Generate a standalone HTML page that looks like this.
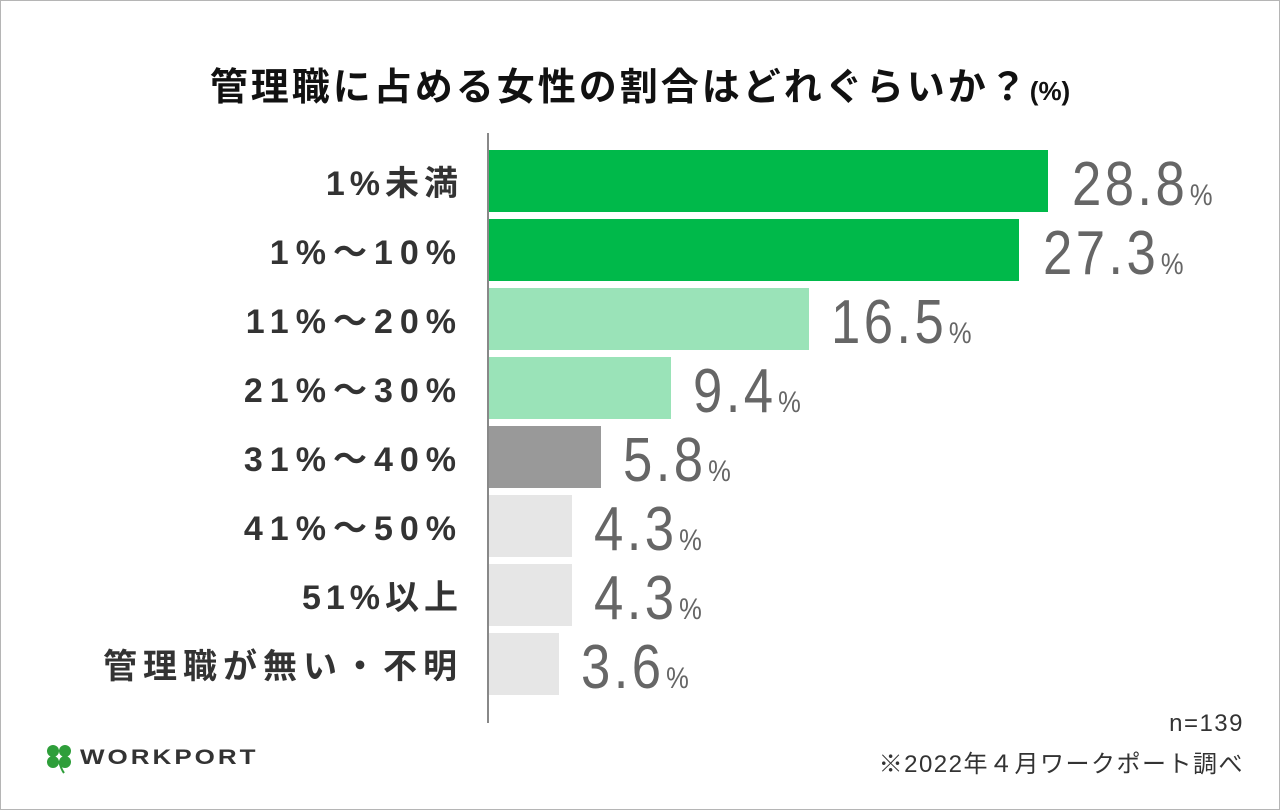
<!DOCTYPE html>
<html><head><meta charset="utf-8"><style>
body{margin:0;width:1280px;height:810px;background:#fff;font-family:"Liberation Sans","Noto Sans CJK JP",sans-serif;position:relative;overflow:hidden}
.frame{position:absolute;left:0;top:0;width:1278px;height:808px;border:1px solid #b5b5b5}
.title{position:absolute;left:0;width:1280px;top:56px;text-align:center;font-size:38px;font-weight:bold;color:#111;letter-spacing:3px}
.title small{font-size:26px;letter-spacing:0}
.axis{position:absolute;left:487px;top:133px;width:2px;height:590px;background:#888}
.bar{position:absolute;left:489px;height:62px}
.lab{position:absolute;right:817px;font-size:34px;font-weight:bold;color:#333;height:62px;line-height:68px;white-space:nowrap;letter-spacing:5px}
.lab.l{letter-spacing:7px}
.val{position:absolute;height:62px;line-height:70px;font-size:62px;color:#666;white-space:nowrap;letter-spacing:4px;transform:scaleX(0.85);transform-origin:left center}
.val span{font-size:30px;margin-left:2px;letter-spacing:0}
.foot{position:absolute;right:36px;font-size:24px;color:#333;letter-spacing:1.5px}
</style></head><body>
<div class="frame"></div>
<div class="title">管理職に占める女性の割合はどれぐらいか？<small>(%)</small></div>
<div class="axis"></div>

<div class="lab" style="top:150px">1%未満</div>
<div class="bar" style="top:150px;width:559px;background:#00b94a"></div>
<div class="val" style="top:150px;left:1072px">28.8<span>%</span></div>

<div class="lab l" style="top:219px">1%～10%</div>
<div class="bar" style="top:219px;width:530px;background:#00b94a"></div>
<div class="val" style="top:219px;left:1043px">27.3<span>%</span></div>

<div class="lab l" style="top:288px">11%～20%</div>
<div class="bar" style="top:288px;width:320px;background:#9ae3b8"></div>
<div class="val" style="top:288px;left:831px">16.5<span>%</span></div>

<div class="lab l" style="top:357px">21%～30%</div>
<div class="bar" style="top:357px;width:182px;background:#9ae3b8"></div>
<div class="val" style="top:357px;left:693px">9.4<span>%</span></div>

<div class="lab l" style="top:426px">31%～40%</div>
<div class="bar" style="top:426px;width:112px;background:#999"></div>
<div class="val" style="top:426px;left:623px">5.8<span>%</span></div>

<div class="lab l" style="top:495px">41%～50%</div>
<div class="bar" style="top:495px;width:83px;background:#e6e6e6"></div>
<div class="val" style="top:495px;left:594px">4.3<span>%</span></div>

<div class="lab" style="top:564px">51%以上</div>
<div class="bar" style="top:564px;width:83px;background:#e6e6e6"></div>
<div class="val" style="top:564px;left:594px">4.3<span>%</span></div>

<div class="lab" style="top:633px;letter-spacing:6px">管理職が無い・不明</div>
<div class="bar" style="top:633px;width:70px;background:#e6e6e6"></div>
<div class="val" style="top:633px;left:581px">3.6<span>%</span></div>

<div class="foot" style="top:710px">n=139</div>
<div class="foot" style="top:744px">※2022年４月ワークポート調べ</div>

<svg style="position:absolute;left:44px;top:743px" width="30" height="32" viewBox="0 0 30 32">
<g fill="#2e9e3a"><circle cx="9" cy="8" r="6"/><circle cx="21" cy="8" r="6"/><circle cx="9" cy="19" r="6"/><circle cx="21" cy="19" r="6"/></g>
<path d="M15 18 Q17 26 20 30" stroke="#2e9e3a" stroke-width="2" fill="none"/></svg>
<div style="position:absolute;left:80px;top:745px;font-size:26px;font-weight:bold;color:#333;letter-spacing:3px;transform:scaleY(0.8);transform-origin:top left">WORKPORT</div>
</body></html>
